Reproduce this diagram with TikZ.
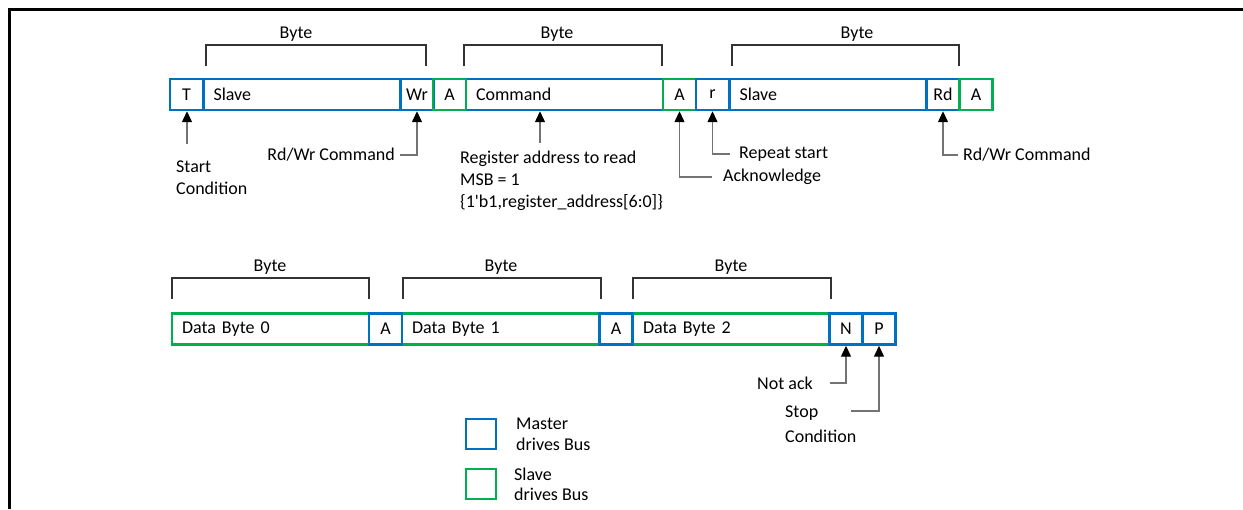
\documentclass[tikz,border=0pt]{standalone}
\usepackage{fontspec}
\setmainfont{Carlito}
\usetikzlibrary{arrows.meta, positioning}
\definecolor{mastercol}{RGB}{0,112,192}
\definecolor{slavecol}{RGB}{0,176,80}

\begin{document}
\begin{tikzpicture}[
    x=1pt, y=-1pt,
    >={Triangle[width=10pt,length=11pt,color=black]},
    field/.style={draw, line width=2.4pt, minimum height=31pt, minimum width=33pt, inner sep=0pt, font=\fontsize{18}{22}\selectfont},
    master/.style={field, draw=mastercol},
    slave/.style={field, draw=slavecol},
    wide/.style={minimum width=0pt, text width=177pt, inner xsep=10pt, align=left},
    note/.style={inner sep=0pt, align=left, font=\fontsize{18}{22}\selectfont},
    conn/.style={->, draw=black!55, line width=1.3pt},
    bracket/.style={draw=black!80, line width=1.1pt}
]
    \useasboundingbox (0,0) rectangle (1243,509);
    \draw[line width=2.6pt] (1243,9.7) -- (9.3,9.7) -- (9.3,509);

    % write register address, then repeat start and read
    \node[master, wide] (slave1) at (302,94.5) {Slave};
    \node[master, wide] (cmd) at (564.5,94.5) {Command};
    \node[master, wide] (slave2) at (828,94.5) {Slave};
    \node[master] (start) at (186.5,94.5) {T};
    \node[master] (wr) at (417,94.5) {Wr};
    \node[slave] (ack1) at (449.5,94.5) {A};
    \node[slave] (ack2) at (679.5,94.5) {A};
    \node[master] (rstart) at (712.5,94.5) {r};
    \node[master] (rd) at (943,94.5) {Rd};
    \node[slave] (ack3) at (976,94.5) {A};

    % data read back
    \node[slave, wide] (data0) at (270.5,329) {Data Byte 0};
    \node[slave, wide] (data1) at (500.5,329) {Data Byte 1};
    \node[slave, wide] (data2) at (731.5,329) {Data Byte 2};
    \node[master] (dack0) at (385.5,329) {A};
    \node[master] (dack1) at (616,329) {A};
    \node[master] (nack) at (846,329) {N};
    \node[master] (stop) at (879,329) {P};

    % byte brackets
    \foreach \xa/\xb/\xl/\yb in {206/426/296/45, 464/662/557/45, 732/959/857/45,
                                 172/369/270/278, 403/601/501/278, 633/831/731/278} {
        \draw[bracket] (\xa,\yb+21) -- (\xa,\yb) -- (\xb,\yb) -- (\xb,\yb+21);
        \node[font=\fontsize{18}{22}\selectfont] at (\xl,\yb-11) {Byte};
    }

    % notes
    \node[note, anchor=north west] (startc) at (176,160.7) {Start\\Condition};
    \node[note, anchor=east] (rdwr1) at (395,155) {Rd/Wr Command};
    \node[note, anchor=north west] (regaddr) at (460,150.6) {Register address to read\\MSB = 1\\\{1\textquotesingle b1,register\_address[6:0]\}};
    \node[note, anchor=west] (ackc) at (723,177) {Acknowledge};
    \node[note, anchor=west] (rstartc) at (739,154) {Repeat start};
    \node[note, anchor=west] (rdwr2) at (963,155) {Rd/Wr Command};
    \node[note, anchor=east] (nackc) at (813,383) {Not ack};
    \node[note, anchor=north west, font=\fontsize{18}{25}\selectfont] (stopc) at (785,405.7) {Stop\\Condition};

    \coordinate (startend) at (187,144);
    \coordinate (cmdend) at (540,143);
    \coordinate (stopend) at (851,411);

    \draw[conn] (startend) -- (startend |- start.south);
    \draw[conn] ([xshift=5pt]rdwr1.east) -| (wr.south);
    \draw[conn] (cmdend) -- (cmdend |- cmd.south);
    \draw[conn] ([xshift=-11pt]ackc.west) -| (ack2.south);
    \draw[conn] ([xshift=-9pt]rstartc.west) -| (rstart.south);
    \draw[conn] ([xshift=-5pt]rdwr2.west) -| (rd.south);
    \draw[conn] ([xshift=17pt]nackc.east) -| (nack.south);
    \draw[conn] (stopend) -| (stop.south);

    % key
    \node[master, minimum size=30pt, line width=2pt] (keym) at (481,434) {};
    \node[slave, minimum size=30pt, line width=2pt] (keys) at (481,484) {};
    \node[note, anchor=north west, font=\fontsize{18}{21}\selectfont] (keymc) at (516,417.3) {Master\\drives Bus};
    \node[note, anchor=north west, font=\fontsize{18}{20}\selectfont] (keysc) at (514,467.3) {Slave\\drives Bus};
\end{tikzpicture}
\end{document}
